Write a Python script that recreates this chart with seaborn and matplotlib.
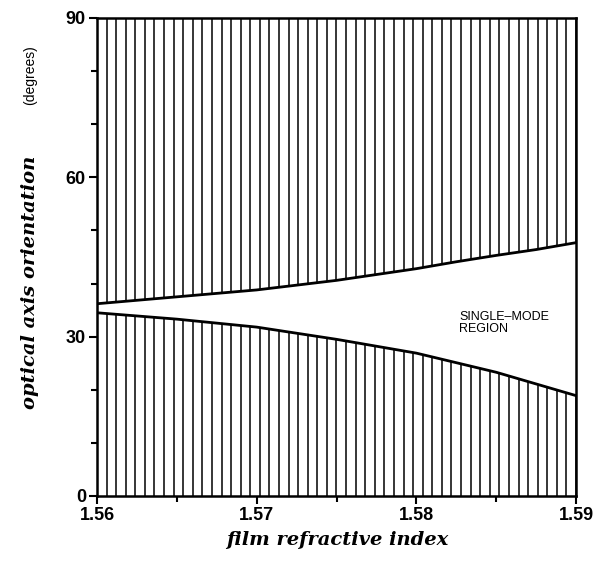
import numpy as np
import pandas as pd
import matplotlib
matplotlib.use("Agg")
import matplotlib.pyplot as plt
import seaborn as sns
from matplotlib.ticker import MultipleLocator

# data
n_index = [1.560, 1.565, 1.570, 1.575, 1.580, 1.5825, 1.585, 1.5875, 1.590]
upper_deg = [36.2, 37.5, 38.8, 40.6, 42.8, 44.1, 45.3, 46.4, 47.7]
lower_deg = [34.5, 33.3, 31.8, 29.5, 26.9, 25.1, 23.3, 21.1, 18.9]
x_ticks = [1.56, 1.57, 1.58, 1.59]
y_ticks = [0, 30, 60, 90]
n_hatch = 51

sns.set_style("ticks")
plt.rcParams['font.family'] = ['Liberation Sans', 'DejaVu Sans']
plt.rcParams['text.color'] = 'black'

fig = plt.figure(figsize=(5.93, 5.65), dpi=100)
ax = fig.add_axes([97/593, 69/565, 479/593, 478/565])

df = pd.DataFrame({"n": n_index, "upper": upper_deg, "lower": lower_deg})

# hatching
hx = np.linspace(n_index[0], n_index[-1], n_hatch)
hu = np.interp(hx, n_index, upper_deg)
hl = np.interp(hx, n_index, lower_deg)
ax.vlines(hx, hu, 90, color="black", lw=1.1)
ax.vlines(hx, 0, hl, color="black", lw=1.1)

sns.lineplot(data=df, x="n", y="upper", ax=ax, color="black", lw=2.0)
sns.lineplot(data=df, x="n", y="lower", ax=ax, color="black", lw=2.0)

ax.set_xlim(1.56, 1.59)
ax.set_ylim(0, 90)
ax.set_xticks(x_ticks)
ax.set_xticklabels([f"{v:.2f}" for v in x_ticks])
ax.set_yticks(y_ticks)
ax.xaxis.set_minor_locator(MultipleLocator(0.005))
ax.yaxis.set_minor_locator(MultipleLocator(10))
ax.tick_params(axis="both", which="major", direction="out", length=6, width=1.5,
               labelsize=13, pad=2, colors="black")
ax.tick_params(axis="both", which="minor", direction="out", length=4, width=1.5,
               colors="black")
for lab in ax.get_xticklabels() + ax.get_yticklabels():
    lab.set_fontweight("bold")
for s in ax.spines.values():
    s.set_visible(True)
    s.set_linewidth(1.8)
    s.set_color("black")

ax.set_xlabel("")
ax.set_ylabel("")
fig.text(337/593, 1 - 540/565, "film refractive index", ha="center", va="center",
         family="DejaVu Serif", style="italic", weight="bold", fontsize=14,
         color="black")
fig.text(30/593, 1 - 282/565, "optical axis orientation", ha="center", va="center",
         rotation=90, family="DejaVu Serif", style="italic", weight="bold", fontsize=14,
         color="black")
fig.text(30/593, 1 - 75/565, "(degrees)", ha="center", va="center",
         rotation=90, fontsize=10, color="black")

ax.text(1.5827, 32.5, "SINGLE\u2013MODE\nREGION", ha="left", va="center",
        fontsize=9, linespacing=1.0, color="black")

fig.savefig("out.png", dpi=100)
